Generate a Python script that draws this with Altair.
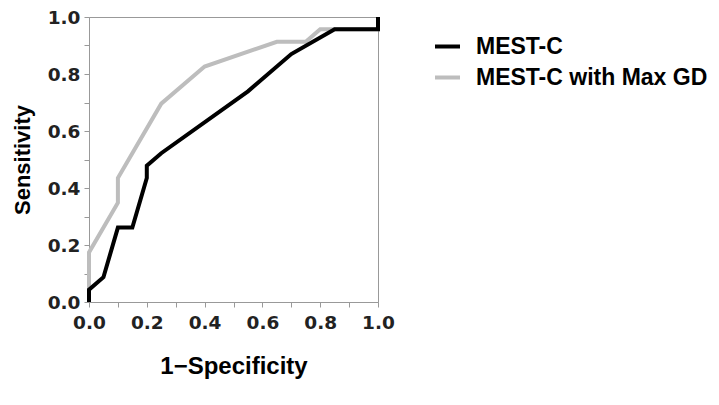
import altair as alt
import pandas as pd

mest_x = [0.0, 0.0, 0.05, 0.10, 0.15, 0.20, 0.20, 0.25, 0.55, 0.70, 0.85, 1.0, 1.0]
mest_y = [0.0, 0.043, 0.087, 0.261, 0.261, 0.435, 0.478, 0.522, 0.739, 0.870, 0.957, 0.957, 1.0]

gd_x = [0.0, 0.0, 0.10, 0.10, 0.25, 0.40, 0.65, 0.75, 0.80, 1.0, 1.0]
gd_y = [0.0, 0.174, 0.348, 0.435, 0.696, 0.826, 0.913, 0.913, 0.957, 0.957, 1.0]

series = ["MEST-C", "MEST-C with Max GD"]
colors = ["#000000", "#bdbdbd"]

rows = []
for i, (x, y) in enumerate(zip(gd_x, gd_y)):
    rows.append({"x": x, "y": y, "s": series[1], "o": i})
for i, (x, y) in enumerate(zip(mest_x, mest_y)):
    rows.append({"x": x, "y": y, "s": series[0], "o": i})
df = pd.DataFrame(rows)

ticks = [round(i * 0.1, 1) for i in range(11)]

axis_common = dict(
    values=ticks,
    labelExpr="(round(datum.value*10) % 2 == 0) ? format(datum.value, '.1f') : ''",
    labelFont="DejaVu Sans",
    labelFontWeight="bold",
    labelFontSize=18.5,
    labelColor="#222222",
    labelFlush=False,
    labelOverlap=False,
    titleFont="Liberation Sans",
    titleFontWeight="bold",
    titleColor="#000000",
    domainColor="#999999",
    tickColor="#999999",
    tickSize=5,
    grid=False,
)

chart = alt.Chart(df).mark_line(strokeWidth=4, strokeJoin="miter").encode(
    x=alt.X("x:Q", scale=alt.Scale(domain=[0, 1], nice=False),
            axis=alt.Axis(title="1\u2212Specificity", labelPadding=6, titlePadding=23,
                          titleFontSize=24, **axis_common)),
    y=alt.Y("y:Q", scale=alt.Scale(domain=[0, 1], nice=False),
            axis=alt.Axis(title="Sensitivity", labelPadding=4, titlePadding=13,
                          titleFontSize=22, **axis_common)),
    color=alt.Color("s:N", scale=alt.Scale(domain=series, range=colors),
                    legend=alt.Legend(title=None, orient="none", legendX=344, legendY=15,
                                      symbolType="stroke", symbolStrokeWidth=4, symbolSize=625,
                                      labelFont="Liberation Sans", labelFontWeight="bold",
                                      labelFontSize=23, labelColor="#000000", rowPadding=4,
                                      labelOffset=14, labelLimit=400)),
    order="o:Q",
).properties(
    width=289, height=285,
    autosize=alt.AutoSizeParams(type="none"),
    padding={"left": 81, "top": 9, "right": 333, "bottom": 90},
).configure_view(
    stroke="#999999", strokeWidth=1
)

chart.save("out.html", embed_options={"renderer": "svg", "actions": False})
